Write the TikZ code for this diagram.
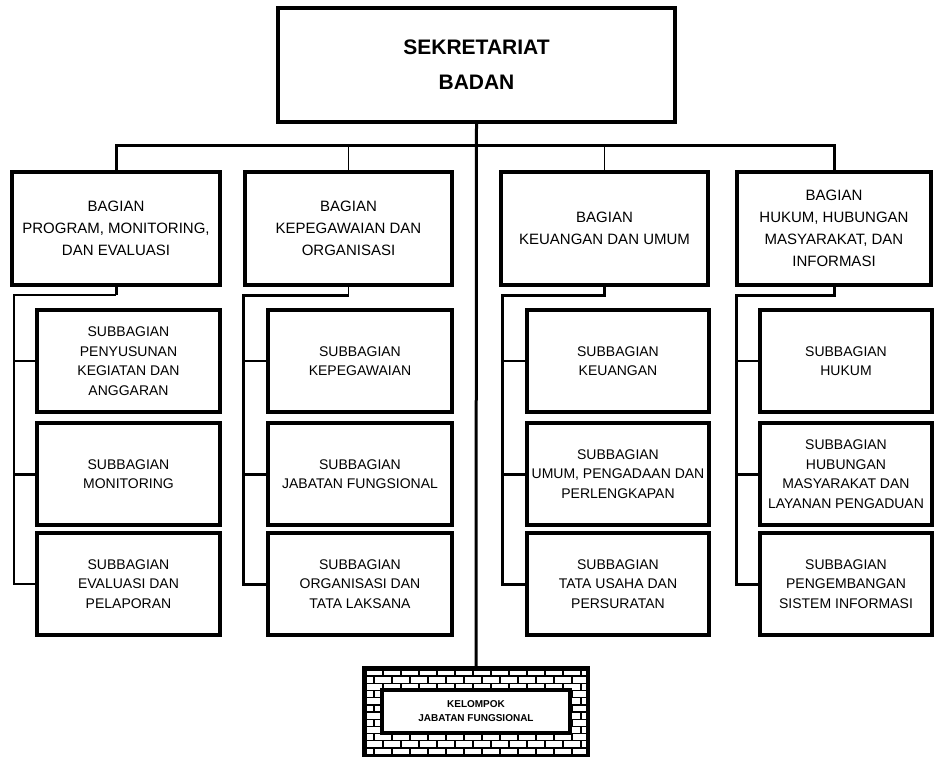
\documentclass[tikz,border=0pt]{standalone}
\usepackage{fontspec}
\setmainfont{Liberation Sans}

\begin{document}
\begin{tikzpicture}[x=1pt, y=-1pt,
  kotak/.style={draw, line width=3.2pt, fill=white, align=center, inner sep=2pt},
  bagian/.style={kotak, minimum height=113pt, font=\fontsize{15}{22}\selectfont},
  subbag/.style={kotak, minimum height=102pt, font=\fontsize{14}{19.5}\selectfont},
  link/.style={line width=3pt},
  thinlink/.style={line width=1.3pt}]
  \useasboundingbox (0,0) rectangle (935,756);

  % pimpinan
  \node[kotak, minimum width=397pt, minimum height=114pt,
        font=\fontsize{21}{35}\selectfont\bfseries] (sek) at (476.5,65) {SEKRETARIAT\\BADAN};

  % bagian
  \node[bagian, minimum width=208pt] (b1) at (116,228.5) {BAGIAN\\PROGRAM, MONITORING,\\DAN EVALUASI};
  \node[bagian, minimum width=207pt] (b2) at (348.5,228.5) {BAGIAN\\KEPEGAWAIAN DAN\\ORGANISASI};
  \node[bagian, minimum width=207pt] (b3) at (604.5,228.5) {BAGIAN\\KEUANGAN DAN UMUM};
  \node[bagian, minimum width=194pt] (b4) at (834,228.5) {BAGIAN\\HUKUM, HUBUNGAN\\MASYARAKAT, DAN\\INFORMASI};

  % subbagian
  \node[subbag, minimum width=183pt] (s11) at (128.5,361) {SUBBAGIAN\\PENYUSUNAN\\KEGIATAN DAN\\ANGGARAN};
  \node[subbag, minimum width=183pt] (s12) at (128.5,474) {SUBBAGIAN\\MONITORING};
  \node[subbag, minimum width=183pt] (s13) at (128.5,584) {SUBBAGIAN\\EVALUASI DAN\\PELAPORAN};

  \node[subbag, minimum width=184pt] (s21) at (360,361) {SUBBAGIAN\\KEPEGAWAIAN};
  \node[subbag, minimum width=184pt] (s22) at (360,474) {SUBBAGIAN\\JABATAN FUNGSIONAL};
  \node[subbag, minimum width=184pt] (s23) at (360,584) {SUBBAGIAN\\ORGANISASI DAN\\TATA LAKSANA};

  \node[subbag, minimum width=182pt] (s31) at (618,361) {SUBBAGIAN\\KEUANGAN};
  \node[subbag, minimum width=182pt] (s32) at (618,474) {SUBBAGIAN\\UMUM, PENGADAAN DAN\\PERLENGKAPAN};
  \node[subbag, minimum width=182pt] (s33) at (618,584) {SUBBAGIAN\\TATA USAHA DAN\\PERSURATAN};

  \node[subbag, minimum width=172pt] (s41) at (846,361) {SUBBAGIAN\\HUKUM};
  \node[subbag, minimum width=172pt] (s42) at (846,474) {SUBBAGIAN\\HUBUNGAN\\MASYARAKAT DAN\\LAYANAN PENGADUAN};
  \node[subbag, minimum width=172pt] (s43) at (846,584) {SUBBAGIAN\\PENGEMBANGAN\\SISTEM INFORMASI};

  % kelompok jabatan fungsional (bingkai bata)
  \node[draw, line width=3pt, minimum width=222pt, minimum height=86pt] (kelbox) at (476,712) {};
  \begin{scope}
    \clip (kelbox.south west) rectangle (kelbox.north east);
    \foreach \i in {0,...,11} {
      \pgfmathsetmacro\yy{669+\i*7.17}
      \draw[line width=1.4pt] (365,\yy) -- (587,\yy);
      \foreach \k in {0,...,12}
        \draw[line width=1.4pt] ({365+\k*18+mod(\i,2)*9},\yy) -- ++(0,7.17);
    }
  \end{scope}
  \draw[line width=3pt] (kelbox.south west) rectangle (kelbox.north east);
  \node[kotak, minimum width=188pt, minimum height=43pt,
        font=\fontsize{10}{14}\selectfont\bfseries] (kel) at (476,711.5) {KELOMPOK\\JABATAN FUNGSIONAL};

  % garis komando
  \coordinate (bus) at (476.5,145);
  \draw[link] (sek.south) -- (kelbox.north);
  \draw[link] (b1.north) |- (bus) -| (b4.north);
  \draw[thinlink] (b2.north) -- (b2.north |- bus);
  \draw[thinlink] (b3.north) -- (b3.north |- bus);

  \coordinate (j1) at (14,295);
  \coordinate (j2) at (243,295);
  \coordinate (j3) at (502,295);
  \coordinate (j4) at (736,295);

  \draw[link] (b1.south) -- (b1.south |- j1);
  \draw[thinlink] (b1.south |- j1) -- (j1) |- (s13.west);
  \draw[thinlink] (j1 |- s11.west) -- (s11.west);
  \draw[link] (j1 |- s12.west) -- (s12.west);

  \draw[thinlink] (b2.south) -- (b2.south |- j2);
  \draw[link] (b2.south |- j2) -- (j2) |- (s23.west);
  \draw[thinlink] (j2 |- s21.west) -- (s21.west);
  \draw[link] (j2 |- s22.west) -- (s22.west);

  \draw[link] (b3.south) |- (j3) |- (s33.west);
  \draw[thinlink] (j3 |- s31.west) -- (s31.west);
  \draw[link] (j3 |- s32.west) -- (s32.west);

  \draw[link] (b4.south) |- (j4) |- (s43.west);
  \draw[thinlink] (j4 |- s41.west) -- (s41.west);
  \draw[link] (j4 |- s42.west) -- (s42.west);
\end{tikzpicture}
\end{document}
